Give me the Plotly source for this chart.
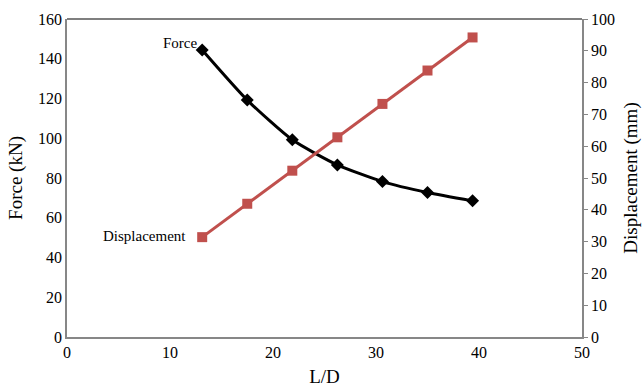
import plotly.graph_objects as go

# Slenderness ratio and measured response
ld_ratio = [13.125, 17.5, 21.875, 26.25, 30.625, 35.0, 39.375]
force_kn = [144.4, 119.2, 99.2, 86.6, 78.2, 72.7, 68.5]
displacement_mm = [31.4, 41.9, 52.3, 62.8, 73.3, 83.8, 94.2]

x_ticks = [0, 10, 20, 30, 40, 50]
force_ticks = list(range(0, 161, 20))
disp_ticks = list(range(0, 101, 10))

FONT = "Liberation Serif"
AXIS_GRAY = "#878787"
RED = "#C0504D"

fig = go.Figure()

fig.add_trace(go.Scatter(
    x=ld_ratio, y=force_kn, name="Force",
    mode="lines+markers",
    line=dict(color="black", width=3, shape="spline", smoothing=0.6),
    marker=dict(symbol="diamond", size=10, color="black"),
    yaxis="y",
))

fig.add_trace(go.Scatter(
    x=ld_ratio, y=displacement_mm, name="Displacement",
    mode="lines+markers",
    line=dict(color=RED, width=3),
    marker=dict(symbol="square", size=10, color=RED),
    yaxis="y2",
))

# Series labels next to the first point of each curve
fig.add_annotation(x=ld_ratio[0], y=force_kn[0], xref="x", yref="y",
                   text="Force", showarrow=False, xanchor="right", yanchor="middle",
                   xshift=-3, yshift=7, font=dict(family=FONT, size=15, color="black"))
fig.add_annotation(x=ld_ratio[0], y=displacement_mm[0], xref="x", yref="y2",
                   text="Displacement", showarrow=False, xanchor="right", yanchor="middle",
                   xshift=-14, yshift=1, font=dict(family=FONT, size=15, color="black"))

# Top border of the plot area
fig.add_shape(type="line", xref="paper", yref="paper", x0=0, x1=1, y0=1, y1=1,
              line=dict(color="black", width=1.2))

fig.update_layout(
    width=644, height=389,
    margin=dict(l=67, r=62, t=19, b=52),
    paper_bgcolor="white", plot_bgcolor="white",
    showlegend=False,
    font=dict(family=FONT, color="black", size=16),
    xaxis=dict(
        range=[0, 50], tickvals=x_ticks, ticktext=[str(v) for v in x_ticks],
        showgrid=False, zeroline=False, automargin=False,
        showline=True, linecolor=AXIS_GRAY, linewidth=1.5,
        ticks="", tickfont=dict(family=FONT, size=16, color="black"),
        title=dict(text="L/D", font=dict(family=FONT, size=19, color="black"), standoff=10),
    ),
    yaxis=dict(
        range=[0, 160], tickvals=force_ticks, ticktext=[str(v) for v in force_ticks],
        showgrid=False, zeroline=False, automargin=False,
        showline=True, linecolor=AXIS_GRAY, linewidth=1.5,
        ticks="", tickfont=dict(family=FONT, size=16, color="black"),
        title=dict(text="Force (kN)", font=dict(family=FONT, size=19, color="black"), standoff=10),
    ),
    yaxis2=dict(
        range=[0, 100], tickvals=disp_ticks, ticktext=[str(v) for v in disp_ticks],
        overlaying="y", side="right",
        showgrid=False, zeroline=False, automargin=False,
        showline=True, linecolor=AXIS_GRAY, linewidth=1.5,
        ticks="outside", ticklen=4, tickcolor=AXIS_GRAY, tickwidth=1,
        tickfont=dict(family=FONT, size=16, color="black"),
        title=dict(text="Displacement (mm)", font=dict(family=FONT, size=19, color="black"), standoff=10),
    ),
)

fig.write_html("out.html")
